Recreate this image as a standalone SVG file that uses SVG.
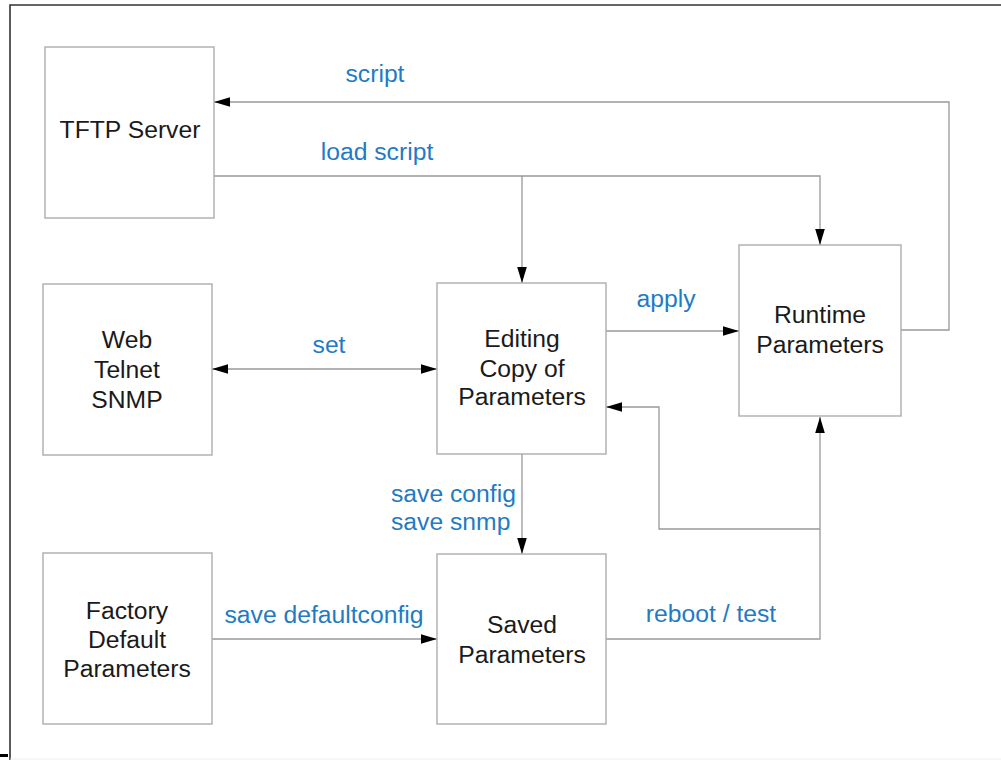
<svg xmlns="http://www.w3.org/2000/svg" width="1001" height="760" viewBox="0 0 1001 760">
<style>
.box{fill:#fff;stroke:#adadad;stroke-width:1.4}
.t{font-family:"Liberation Sans",Arial,sans-serif;font-size:24.7px;fill:#1a1a1a;text-anchor:middle}
.l{font-family:"Liberation Sans",Arial,sans-serif;font-size:24.7px;fill:#1f7bc4;text-anchor:middle}
.c{fill:none;stroke:#999;stroke-width:1.3}
.frame{fill:none;stroke:#333;stroke-width:1.6}
</style>
<defs>
<marker id="ah" markerUnits="userSpaceOnUse" markerWidth="16" markerHeight="10" viewBox="0 0 15 9" refX="15" refY="4.5" orient="auto-start-reverse">
<path d="M0,0 L15,4.5 L0,9 z" fill="#000"/>
</marker>
</defs>
<rect width="1001" height="760" fill="#fff"/>
<g id="frame">
<path class="frame" d="M10,760 V5 H1001"/>
<line x1="10" y1="759" x2="1001" y2="759" stroke="#eee" stroke-width="1"/>
<rect x="0" y="754" width="8" height="3" fill="#000"/>
</g>
<g id="connectors">
<polyline class="c" points="901,330 949,330 949,102 214,102" marker-end="url(#ah)"/>
<polyline class="c" points="214,176 820,176 820,245" marker-end="url(#ah)"/>
<line class="c" x1="522" y1="176" x2="522" y2="283" marker-end="url(#ah)"/>
<line class="c" x1="212" y1="369" x2="437" y2="369" marker-start="url(#ah)" marker-end="url(#ah)"/>
<line class="c" x1="606" y1="331" x2="739" y2="331" marker-end="url(#ah)"/>
<line class="c" x1="522" y1="454" x2="522" y2="554" marker-end="url(#ah)"/>
<line class="c" x1="212" y1="639" x2="437" y2="639" marker-end="url(#ah)"/>
<polyline class="c" points="606,639 820,639 820,417" marker-end="url(#ah)"/>
<polyline class="c" points="820,529 659,529 659,407 606,407" marker-end="url(#ah)"/>
<text class="l" x="375" y="82">script</text>
<text class="l" x="377" y="160">load script</text>
<text class="l" x="329" y="353">set</text>
<text class="l" x="666" y="307">apply</text>
<text class="l" x="391" y="502" style="text-anchor:start">save config</text>
<text class="l" x="391" y="530" style="text-anchor:start">save snmp</text>
<text class="l" x="324" y="623">save defaultconfig</text>
<text class="l" x="711" y="622">reboot / test</text>
</g>
<g id="tftp">
<rect class="box" x="45" y="47" width="169" height="171"/>
<text class="t" x="130" y="138">TFTP Server</text>
</g>
<g id="web">
<rect class="box" x="43" y="284" width="169" height="171"/>
<text class="t" x="127" y="348">Web</text>
<text class="t" x="127" y="378">Telnet</text>
<text class="t" x="127" y="408">SNMP</text>
</g>
<g id="editing">
<rect class="box" x="437" y="283" width="169" height="171"/>
<text class="t" x="522" y="347">Editing</text>
<text class="t" x="522" y="377">Copy of</text>
<text class="t" x="522" y="405">Parameters</text>
</g>
<g id="runtime">
<rect class="box" x="739" y="245" width="162" height="171"/>
<text class="t" x="820" y="323">Runtime</text>
<text class="t" x="820" y="353">Parameters</text>
</g>
<g id="factory">
<rect class="box" x="43" y="553" width="169" height="171"/>
<text class="t" x="127" y="619">Factory</text>
<text class="t" x="127" y="648">Default</text>
<text class="t" x="127" y="677">Parameters</text>
</g>
<g id="saved">
<rect class="box" x="437" y="554" width="169" height="170"/>
<text class="t" x="522" y="633">Saved</text>
<text class="t" x="522" y="663">Parameters</text>
</g>
</svg>
